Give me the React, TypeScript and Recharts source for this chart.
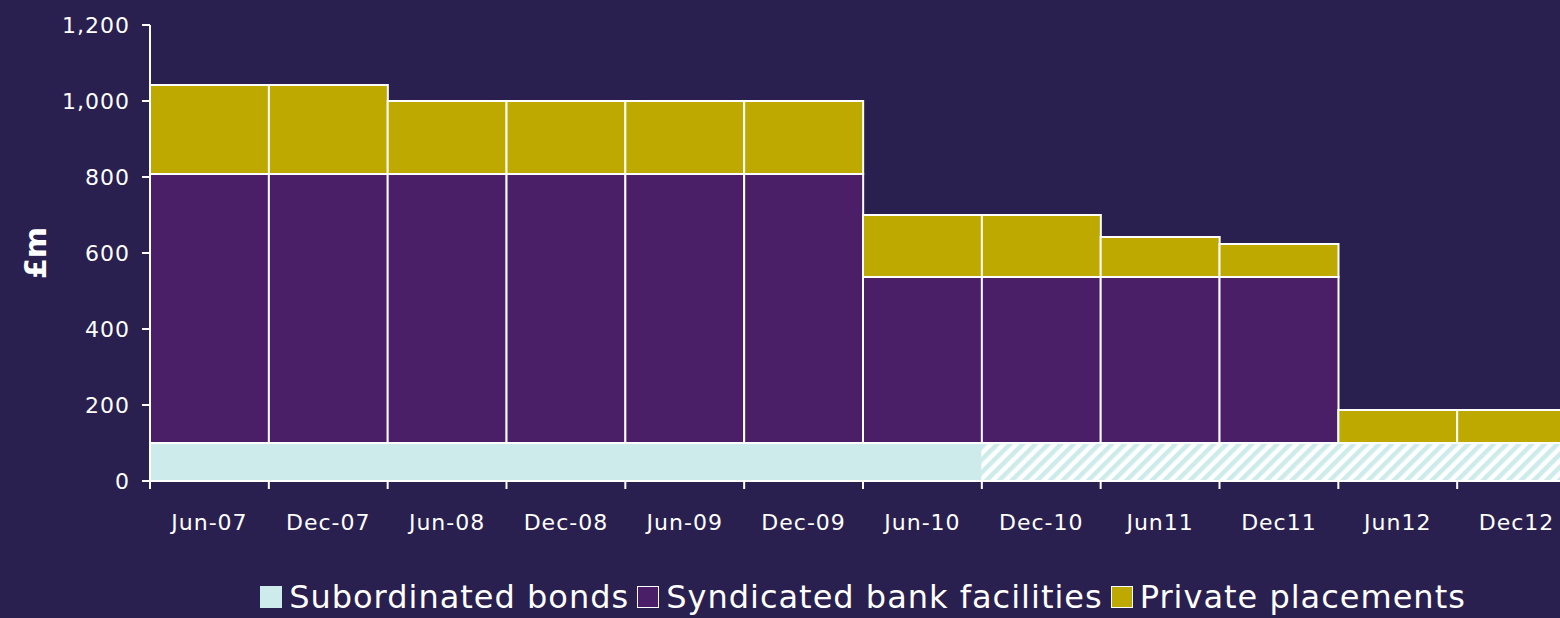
import React from 'react';
import { BarChart, Bar, XAxis, YAxis, Legend, Cell } from 'recharts';

const categories = ['Jun-07', 'Dec-07', 'Jun-08', 'Dec-08', 'Jun-09', 'Dec-09', 'Jun-10', 'Dec-10', 'Jun11', 'Dec11', 'Jun12', 'Dec12'];
const subordinatedBonds = [100, 100, 100, 100, 100, 100, 100, 100, 100, 100, 100, 100];
const subordinatedHatched = [false, false, false, false, false, false, false, true, true, true, true, true];
const syndicatedBank = [708, 708, 708, 708, 708, 708, 437, 437, 437, 437, 0, 0];
const privatePlacements = [234, 234, 192, 192, 192, 192, 163, 163, 105, 87, 87, 87];
const yTicks = [0, 200, 400, 600, 800, 1000, 1200];

const BG = '#2A2050';
const CYAN = '#CCEBEA';
const PURPLE = '#4A1F68';
const GOLD = '#BDA900';
const FONT = '"DejaVu Sans", Verdana, sans-serif';

const data = categories.map((c, i) => ({
  name: c,
  sub: subordinatedBonds[i],
  syn: syndicatedBank[i],
  pp: privatePlacements[i],
}));

const legendItems = [
  { label: 'Subordinated bonds', color: CYAN, border: false },
  { label: 'Syndicated bank facilities', color: PURPLE, border: true },
  { label: 'Private placements', color: GOLD, border: true },
];

const XTick = (props: any) => {
  const { x, y, payload } = props;
  const off = payload && typeof payload.offset === 'number' ? payload.offset : 0;
  return (
    <g>
      <line x1={x - off} x2={x - off} y1={y} y2={y + 8} stroke="#fff" strokeWidth={2} />
      <text x={x} y={y + 41} dy="0.35em" textAnchor="middle" fill="#fff" fontSize={22} letterSpacing={1} fontFamily={FONT}>
        {payload.value}
      </text>
    </g>
  );
};

const renderLegend = () => (
  <div style={{ height: 40, boxSizing: 'border-box', display: 'flex', justifyContent: 'center', alignItems: 'flex-start', fontFamily: FONT, fontSize: 32, lineHeight: '38px', letterSpacing: 1, color: '#fff', whiteSpace: 'nowrap' }}>
    {legendItems.map((it, i) => (
      <span key={i} style={{ display: 'inline-flex', alignItems: 'center', height: 38, marginRight: i < legendItems.length - 1 ? 8 : 0 }}>
        <span style={{ display: 'inline-block', width: 22, height: 22, boxSizing: 'border-box', background: it.color, border: it.border ? '1.5px solid #fff' : 'none', marginRight: 7 }} />
        {it.label}
      </span>
    ))}
  </div>
);

export default function App() {
  return (
    <div style={{ position: 'fixed', left: 0, top: 0, width: 1560, height: 618, overflow: 'hidden', background: BG, fontFamily: FONT }}>
      <BarChart width={1576} height={618} data={data} margin={{ top: 25, right: 0, left: 0, bottom: 0 }} barCategoryGap={0}>
        <defs>
          <pattern id="hatch" patternUnits="userSpaceOnUse" width={9} height={9} patternTransform="rotate(45)">
            <rect width={9} height={9} fill="#fff" />
            <rect width={4.5} height={9} fill={CYAN} />
          </pattern>
        </defs>
        <XAxis
          dataKey="name"
          height={97}
          axisLine={{ stroke: '#fff', strokeWidth: 2 }}
          tickLine={false}
          tickSize={0}
          tickMargin={0}
          tick={<XTick />}
          interval={0}
        />
        <YAxis
          width={150}
          domain={[0, 1200]}
          ticks={yTicks}
          interval={0}
          axisLine={{ stroke: '#fff', strokeWidth: 2 }}
          tickLine={{ stroke: '#fff', strokeWidth: 2 }}
          tickSize={8}
          tickMargin={12}
          tick={{ fill: '#fff', fontSize: 22, letterSpacing: 1, fontFamily: FONT }}
          tickFormatter={(v: number) => v.toLocaleString('en-GB')}
          label={({ viewBox }: any) => (
            <text
              x={35}
              y={viewBox.y + viewBox.height / 2}
              transform={`rotate(-90, 35, ${viewBox.y + viewBox.height / 2})`}
              textAnchor="middle"
              dy="0.35em"
              fill="#fff"
              fontSize={30}
              fontWeight="bold"
              fontFamily={FONT}
            >
              £m
            </text>
          )}
        />
        <Legend verticalAlign="bottom" content={renderLegend} wrapperStyle={{ left: 150, width: 1426 }} />
        <Bar dataKey="sub" stackId="a" fill={CYAN} isAnimationActive={false}>
          {data.map((_, i) => (
            <Cell
              key={i}
              fill={subordinatedHatched[i] ? 'url(#hatch)' : CYAN}
              stroke={subordinatedHatched[i] ? 'url(#hatch)' : CYAN}
              strokeWidth={1}
            />
          ))}
        </Bar>
        <Bar dataKey="syn" stackId="a" fill={PURPLE} stroke="#fff" strokeWidth={2} isAnimationActive={false} />
        <Bar dataKey="pp" stackId="a" fill={GOLD} stroke="#fff" strokeWidth={2} isAnimationActive={false} />
      </BarChart>
    </div>
  );
}
